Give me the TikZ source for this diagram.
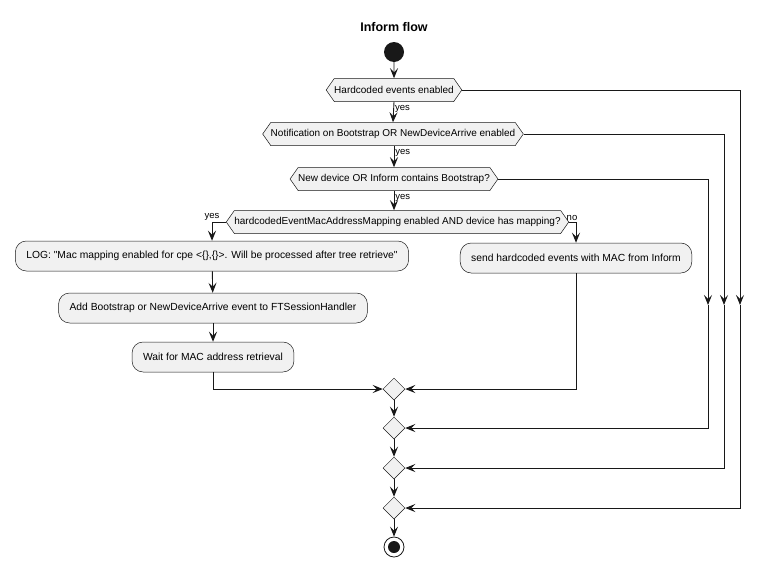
\documentclass[tikz,border=0pt]{standalone}
\usepackage{fontspec}
\setmainfont{Liberation Sans}
\usetikzlibrary{shapes.symbols, shapes.geometric, arrows.meta, positioning}
\definecolor{umlfill}{HTML}{F1F1F1}
\definecolor{umlline}{HTML}{181818}

\begin{document}
\begin{tikzpicture}[x=1pt, y=-1pt,
        test/.style={signal, signal to=west and east, signal pointer angle=110, draw=umlline, fill=umlfill, line width=.5pt, minimum height=23pt, inner xsep=0pt, inner ysep=0pt, font=\fontsize{10}{12}\selectfont},
        action/.style={rectangle, rounded corners=11pt, draw=umlline, fill=umlfill, line width=.5pt, minimum height=30pt, inner xsep=11pt, font=\fontsize{10.3}{12}\selectfont},
        merge/.style={diamond, draw=umlline, fill=umlfill, line width=.5pt, minimum size=22pt, inner sep=0pt},
        flow/.style={draw=umlline, line width=.9pt, -{Stealth[length=10pt, width=8pt, inset=4pt]}},
        guard/.style={font=\fontsize{9.5}{10}\selectfont, inner sep=1pt}]
        \useasboundingbox (0,0) rectangle (762,565);

        \node[font=\fontsize{12.5}{14}\selectfont\bfseries] (title) at (394, 27) {Inform flow};
        \node[circle, fill=umlline, minimum size=20pt, inner sep=0pt] (start) at (394, 52) {};

        \node[test] (hard) at (394, 90) {Hardcoded events enabled};
        \node[test] (notif) at (393, 134) {Notification on Bootstrap OR NewDeviceArrive enabled};
        \node[test] (newdev) at (394, 179) {New device OR Inform contains Bootstrap?};
        \node[test] (mapping) at (397.5, 222) {hardcodedEventMacAddressMapping enabled AND device has mapping?};

        \node[action] (log) at (212, 256) {LOG: \textquotedbl Mac mapping enabled for cpe <\{\},\{\}>. Will be processed after tree retrieve\textquotedbl};
        \node[action] (addevt) at (213, 308) {Add Bootstrap or NewDeviceArrive event to FTSessionHandler};
        \node[action] (waitmac) at (213, 357) {Wait for MAC address retrieval};
        \node[action] (send) at (576, 258) {send hardcoded events with MAC from Inform};

        \node[merge] (m1) at (394, 389) {};
        \node[merge] (m2) at (394, 428) {};
        \node[merge] (m3) at (394, 468) {};
        \node[merge] (m4) at (394, 508) {};
        \node[circle, draw=umlline, fill=white, line width=.8pt, minimum size=20pt, inner sep=0pt] (stop) at (394, 547) {};
        \fill[umlline] (stop.center) circle (6pt);

        % bypass lines on the right
        \coordinate (skip3) at (708, 305);
        \coordinate (skip2) at (724, 305);
        \coordinate (skip1) at (740, 305);

        \draw[flow] (start) to (hard);
        \draw[flow] (hard.south) to node[guard, right, pos=.35] {yes} (notif.north);
        \draw[flow] (notif.south -| hard.south) to node[guard, right, pos=.35] {yes} (newdev.north);
        \draw[flow] (newdev.south) to node[guard, right, pos=.35] {yes} (newdev.south |- mapping.north);

        \draw[flow] (mapping.west) -| node[guard, above, pos=.5] {yes} (log.north);
        \draw[flow] (mapping.east) -| node[guard, above, pos=.5, xshift=-4pt] {no} (send.north);
        \draw[flow] (log) to (addevt);
        \draw[flow] (addevt) to (waitmac);
        \draw[flow] (waitmac.south) |- (m1.west);
        \draw[flow] (send.south) |- (m1.east);

        \draw[flow] (newdev.east) -| (skip3);
        \draw[flow] (skip3) |- (m2.east);
        \draw[flow] (notif.east) -| (skip2);
        \draw[flow] (skip2) |- (m3.east);
        \draw[flow] (hard.east) -| (skip1);
        \draw[flow] (skip1) |- (m4.east);

        \draw[flow] (m1) to (m2);
        \draw[flow] (m2) to (m3);
        \draw[flow] (m3) to (m4);
        \draw[flow] (m4) to (stop);
    \end{tikzpicture}
\end{document}
